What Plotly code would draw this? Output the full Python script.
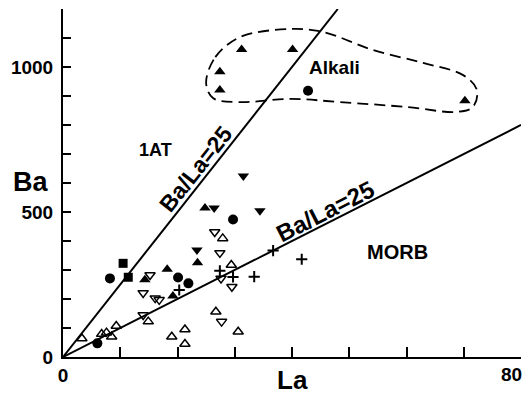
import plotly.graph_objects as go

# ---- data (La ppm, Ba ppm) ----
filled_circle_la = [6.0, 8.2, 20.1, 21.9, 29.7, 42.8]
filled_circle_ba = [47, 271, 274, 254, 474, 918]

filled_square_la = [10.5, 11.4]
filled_square_ba = [323, 275]

filled_up_la = [14.3, 18.2, 23.5, 19.2, 24.8, 31.2, 40.1, 27.4, 27.4, 70.2]
filled_up_ba = [266, 303, 325, 210, 514, 1060, 1060, 984, 921, 884]

filled_down_la = [26.4, 31.5, 34.4, 23.4]
filled_down_ba = [514, 624, 504, 369]

open_up_la = [3.3, 6.75, 7.6, 8.5, 9.3, 14.9, 29.4, 26.7, 19.0, 21.3, 21.3, 30.6, 27.9]
open_up_ba = [64, 79, 84, 70, 107, 122, 317, 156, 70, 95, 45, 87, 409]

open_down_la = [15.2, 14.0, 16.1, 16.8, 14.0, 26.5, 27.4, 27.6, 29.5, 27.7]
open_down_ba = [283, 221, 203, 197, 145, 431, 359, 271, 242, 122]

cross_la = [27.4, 29.7, 33.4, 20.3, 36.7, 41.7]
cross_ba = [297, 276, 277, 231, 367, 337]

# reference ratio lines Ba = r * La
steep_ratio = 25
steep_la = [0, 48]
shallow_ratio = 10
shallow_la = [0, 80]

# Alkali field envelope
envelope_la = [25.0, 26.6, 30.9, 39.7, 45.4, 54.1, 62.9, 69.9, 72.3, 71.6, 68.8,
               60.1, 48.4, 39.7, 30.9, 26.2, 25.0]
envelope_ba = [945, 1034, 1103, 1131, 1121, 1059, 1014, 972, 921, 862, 845,
               862, 879, 890, 879, 893, 945]

x_ticks = [0, 10, 20, 30, 40, 50, 60, 70, 80]
x_ticktext = ["0", "", "", "", "", "", "", "", ""]
x_end_label = "80"   # drawn as an annotation so it is not clipped at the edge
x_max = 80
y_ticks = list(range(0, 1300, 100))
y_ticktext = ["0", "", "", "", "", "500", "", "", "", "", "1000", "", ""]

FONT = "Liberation Sans, Arial, sans-serif"

fig = go.Figure()

# ratio lines
fig.add_trace(go.Scatter(x=steep_la, y=[steep_ratio * v for v in steep_la],
                         mode="lines", line=dict(color="black", width=2),
                         hoverinfo="skip"))
fig.add_trace(go.Scatter(x=shallow_la, y=[shallow_ratio * v for v in shallow_la],
                         mode="lines", line=dict(color="black", width=2),
                         hoverinfo="skip"))
# envelope
fig.add_trace(go.Scatter(x=envelope_la, y=envelope_ba, mode="lines",
                         line=dict(color="black", width=1.8, dash="11px,6px",
                                   shape="spline", smoothing=1.0),
                         hoverinfo="skip"))


def pts(x, y, symbol, size, lw=0):
    fig.add_trace(go.Scatter(
        x=x, y=y, mode="markers", cliponaxis=False,
        marker=dict(symbol=symbol, size=size, color="black",
                    line=dict(color="black", width=lw))))


pts(open_up_la, open_up_ba, "triangle-up-open", 9, 1.5)
pts(open_down_la, open_down_ba, "triangle-down-open", 9, 1.5)
pts(cross_la, cross_ba, "cross-thin-open", 8, 2)
pts(filled_circle_la, filled_circle_ba, "circle", 10)
pts(filled_square_la, filled_square_ba, "square", 9)
pts(filled_up_la, filled_up_ba, "triangle-up", 10)
pts(filled_down_la, filled_down_ba, "triangle-down", 10)

bold = dict(family=FONT, color="black", weight="bold")

annotations = [
    dict(x=47.5, y=997, text="Alkali", font=dict(size=19, **bold)),
    dict(x=16.1, y=714, text="1AT", font=dict(size=18, **bold)),
    dict(x=58.5, y=362, text="MORB", font=dict(size=20, **bold)),
    dict(x=23.2, y=648, text="Ba/La=25", textangle=-51.7, font=dict(size=23, **bold)),
    dict(x=45.7, y=503, text="Ba/La=25", textangle=-26.9, font=dict(size=24, **bold)),
    dict(x=-0.07, xref="paper", y=605, text="Ba", font=dict(size=27, **bold)),
    dict(x=40.0, y=-0.065, yref="paper", text="La", font=dict(size=26, **bold)),
    dict(x=x_max, y=-0.05, yref="paper", text=x_end_label, xshift=-10,
         font=dict(size=19, **bold)),
]
for a in annotations:
    a.setdefault("xref", "x")
    a.setdefault("yref", "y")
    a["showarrow"] = False
    a["xanchor"] = "center"
    a["yanchor"] = "middle"
fig.update_layout(annotations=annotations)

# the page body adds an 8px offset, so the figure is sized to the remaining area
fig.update_layout(
    width=524, height=389,
    margin=dict(l=55, r=11, t=1, b=40),
    paper_bgcolor="white", plot_bgcolor="white",
    showlegend=False,
    xaxis=dict(range=[0, 80], showline=True, linecolor="black", linewidth=2,
               ticks="inside", ticklen=10, tickwidth=2, tickcolor="black",
               tickvals=x_ticks, ticktext=x_ticktext, showgrid=False,
               zeroline=False, tickfont=dict(size=19, **bold),
               automargin=False),
    yaxis=dict(range=[0, 1200], showline=True, linecolor="black", linewidth=2,
               ticks="inside", ticklen=8, tickwidth=2, tickcolor="black",
               tickvals=y_ticks, ticktext=y_ticktext, showgrid=False,
               zeroline=False, tickfont=dict(size=19, **bold),
               ticklabelstandoff=4, automargin=False),
)

fig.write_html("out.html")
